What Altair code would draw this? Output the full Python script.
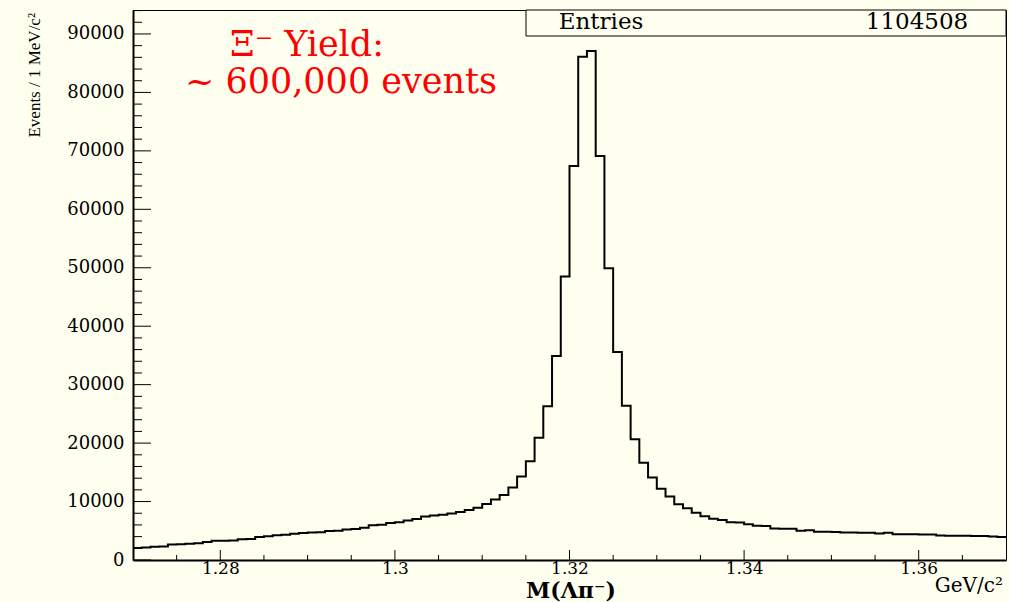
import altair as alt
import pandas as pd

# Histogram definition: 100 bins of 1 MeV between 1.27 and 1.37 GeV/c^2
x_lo = 1.27
x_hi = 1.37
bin_width = 0.001

# Events per bin, read bin by bin from low to high mass
counts = [
    # 1.270 - 1.279
    2050, 2150, 2250, 2300, 2650, 2700, 2800, 2850, 3080, 3300,
    # 1.280 - 1.289
    3300, 3350, 3550, 3600, 3950, 4050, 4250, 4300, 4500, 4600,
    # 1.290 - 1.299
    4700, 4750, 4950, 5000, 5200, 5300, 5500, 5950, 6050, 6350,
    # 1.300 - 1.309
    6450, 6750, 7000, 7450, 7600, 7750, 7950, 8200, 8550, 8950,
    # 1.310 - 1.319
    9600, 10350, 11100, 12400, 14300, 16900, 20900, 26300, 34900, 48500,
    # 1.320 - 1.329
    67400, 86100, 87100, 69100, 49900, 35600, 26400, 20650, 16650, 14100,
    # 1.330 - 1.339
    12200, 10850, 9550, 8850, 8100, 7500, 7050, 6850, 6450, 6400,
    # 1.340 - 1.349
    6100, 5850, 5800, 5400, 5350, 5350, 5000, 5100, 4850, 4850,
    # 1.350 - 1.359
    4800, 4700, 4700, 4650, 4650, 4550, 4650, 4400, 4400, 4400,
    # 1.360 - 1.369
    4350, 4350, 4200, 4150, 4150, 4150, 4100, 4100, 4000, 3950,
]

y_max = 94100

x_major = [1.28, 1.30, 1.32, 1.34, 1.36]
x_minor = [1.275, 1.285, 1.29, 1.295, 1.305, 1.31, 1.315, 1.325, 1.33,
           1.335, 1.345, 1.35, 1.355, 1.365]
y_major = [0, 10000, 20000, 30000, 40000, 50000, 60000, 70000, 80000, 90000]
y_minor = [2000, 4000, 6000, 8000, 12000, 14000, 16000, 18000, 22000, 24000,
           26000, 28000, 32000, 34000, 36000, 38000, 42000, 44000, 46000,
           48000, 52000, 54000, 56000, 58000, 62000, 64000, 66000, 68000,
           72000, 74000, 76000, 78000, 82000, 84000, 86000, 88000, 92000,
           94000]

entries_label = "Entries"
entries_value = "1104508"
yield_lines = ["\u039e\u207b Yield:", "~ 600,000 events"]
x_title = "M(\u039b\u03c0\u207b)"
x_unit = "GeV/c\u00b2"
y_title = "Events / 1 MeV/c\u00b2"

W, H = 873, 550
BG = "#fffff0"
SERIF = "DejaVu Serif"

# step outline: one point per lower bin edge plus the closing upper edge
edges = [round(x_lo + i * bin_width, 4) for i in range(len(counts))] + [x_hi]
hist = pd.DataFrame({"v": edges, "w": counts + [counts[-1]]})

xscale = alt.Scale(domain=[x_lo, x_hi], nice=False, zero=False)
yscale = alt.Scale(domain=[0, y_max], nice=False, zero=True)

# one axis definition shared by every layer so the layers merge cleanly
xaxis = alt.Axis(
    values=x_major, format=".2~f", ticks=False, grid=False, title=None,
    domainColor="black", domainWidth=2, labelFont=SERIF, labelFontSize=17,
    labelColor="black", labelPadding=8, labelBaseline="middle",
    labelFlush=False)
yaxis = alt.Axis(
    values=y_major, format="d", ticks=False, grid=False, title=None,
    domainColor="black", domainWidth=2, labelFont=SERIF, labelFontSize=18,
    labelColor="black", labelPadding=9, labelFlush=False)

line = alt.Chart(hist).mark_line(
    interpolate="step-after", color="black", strokeWidth=2
).encode(
    x=alt.X("v:Q", scale=xscale, axis=xaxis),
    y=alt.Y("w:Q", scale=yscale, axis=yaxis),
)

# inward-pointing ticks drawn as rules
def xticks(vals, length):
    return alt.Chart(pd.DataFrame({"v": vals})).mark_rule(
        color="black", strokeWidth=1
    ).encode(x=alt.X("v:Q", scale=xscale, axis=xaxis),
             y=alt.value(H), y2=alt.value(H - length))

def yticks(vals, length):
    return alt.Chart(pd.DataFrame({"w": vals})).mark_rule(
        color="black", strokeWidth=1
    ).encode(y=alt.Y("w:Q", scale=yscale, axis=yaxis),
             x=alt.value(0), x2=alt.value(length))

one = pd.DataFrame({"k": [0]})

stats_box = alt.Chart(one).mark_rect(
    fill=BG, stroke="black", strokeWidth=1
).encode(x=alt.value(393), x2=alt.value(W), y=alt.value(0), y2=alt.value(26))

def label(text, x, y, size, align="center", color="black", weight="normal",
          font=SERIF, angle=0, baseline="alphabetic"):
    return alt.Chart(pd.DataFrame({"t": [text]})).mark_text(
        font=font, fontSize=size, align=align, color=color,
        fontWeight=weight, angle=angle, baseline=baseline
    ).encode(text="t:N", x=alt.value(x), y=alt.value(y))

chart = alt.layer(
    line,
    stats_box,
    xticks(x_major, 10), xticks(x_minor, 5),
    yticks(y_major, 18), yticks(y_minor, 9),
    label(entries_label, 468, 19, 23),
    label(entries_value, 784, 19, 23),
    label(yield_lines[0], 174, 46, 35, color="#ff0000"),
    label(yield_lines[1], 208, 83, 35, color="#ff0000"),
    label(x_title, 438, 588, 22, weight="bold"),
    label(x_unit, 870, 582, 20, align="right"),
    label(y_title, -98, 3, 17, align="right", font="Liberation Serif",
          angle=270, baseline="middle"),
).properties(
    width=W, height=H, background=BG,
    autosize=alt.AutoSizeParams(type="none"),
    padding={"left": 133, "top": 10, "right": 3, "bottom": 42},
).configure_view(
    stroke="black", strokeWidth=1, fill=BG
)

chart.save("out.html", embed_options={"renderer": "svg", "actions": False})
